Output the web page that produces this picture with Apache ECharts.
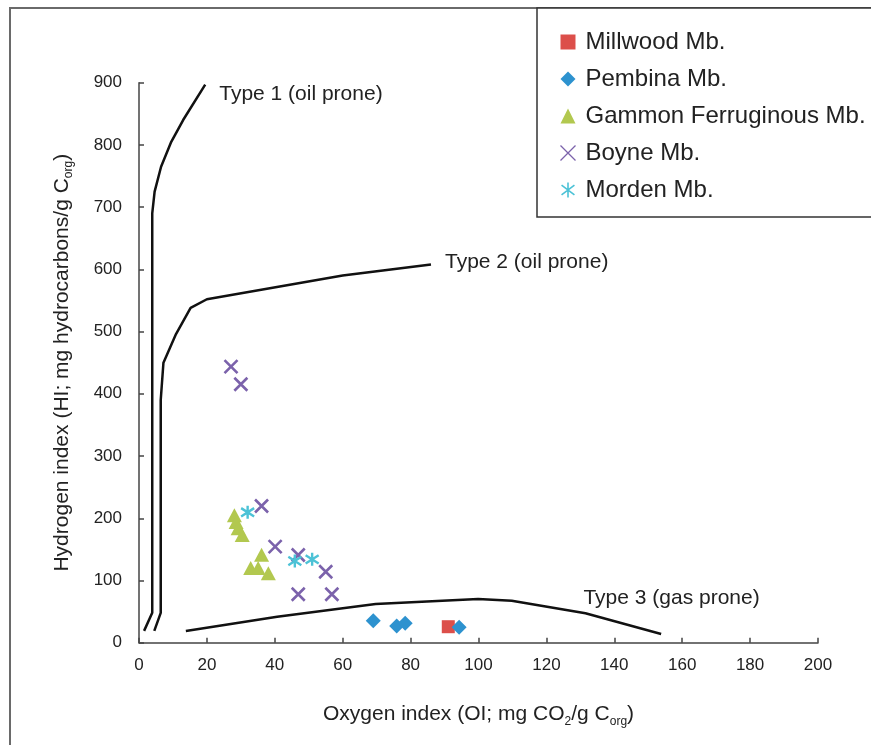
<!DOCTYPE html>
<html>
<head>
<meta charset="utf-8">
<script src="https://cdn.jsdelivr.net/npm/echarts@6/dist/echarts.min.js"></script>
<style>html,body{margin:0;padding:0;background:#fff}#c{width:871px;height:745px}</style>
</head>
<body>
<div id="c"></div>
<script>
// ---- data (OI, HI) ----
const seriesNames = ['Millwood Mb.', 'Pembina Mb.', 'Gammon Ferruginous Mb.', 'Boyne Mb.', 'Morden Mb.'];
const millwood = [[91.1, 25.7]];
const pembina = [[69.0, 35.4], [75.9, 26.8], [78.4, 31.2], [94.3, 24.8]];
const gammon = [[28.1, 205], [28.6, 194], [29.2, 184], [30.4, 173], [36.1, 141.5], [32.9, 120], [35.1, 120], [38.1, 111.5]];
const boyne = [[27.1, 443.6], [30.0, 415.3], [36.1, 219.7], [40.1, 154.3], [46.9, 141], [55.0, 114], [46.9, 77.8], [56.8, 77.8]];
const morden = [[32.0, 209.6], [45.9, 131.3], [51.0, 134]];
const type1 = [[1.5, 19], [3.9, 48], [3.9, 690], [4.6, 725], [6.5, 765], [9.5, 805], [13, 840], [19.5, 897]];
const type2 = [[4.5, 19], [6.4, 48], [6.4, 390], [7.2, 450], [10.9, 496], [15.2, 538], [20, 552], [60, 590], [86, 608]];
const type3 = [[13.8, 18.8], [40.7, 41.8], [69.7, 62.2], [99.9, 70.2], [109.8, 67.5], [131.5, 47.3], [153.8, 14]];
const typeLabels = ['Type 1 (oil prone)', 'Type 2 (oil prone)', 'Type 3 (gas prone)'];
const xRange = [0, 200, 20];
const yRange = [0, 900, 100];

const FONT = '"Liberation Sans", Arial, sans-serif';
const chart = echarts.init(document.getElementById('c'), null, {renderer: 'canvas'});

const xPath = 'path://M0,0 L10,10 M10,0 L0,10';
const starPath = 'path://M5,0 L5,10 M0.7,1.8 L9.3,8.2 M9.3,1.8 L0.7,8.2';

function curve(data, labelIdx, label, lblOpt) {
  return {
    type: 'line', data: data.map((d, i) => {
      if (i !== labelIdx) return d;
      return {value: d, symbolSize: 0.01, label: Object.assign({show: true, formatter: label, fontSize: 21, color: '#222', fontFamily: FONT}, lblOpt)};
    }),
    symbol: 'circle', symbolSize: 0.01, showSymbol: true,
    itemStyle: {color: 'transparent'},
    lineStyle: {color: '#111', width: 2.5}, silent: true, z: 2,
    label: {show: false}
  };
}

const richName = {
  a: {fontSize: 21, color: '#222', fontFamily: FONT, lineHeight: 26},
  s: {fontSize: 12, color: '#222', fontFamily: FONT, verticalAlign: 'bottom', lineHeight: 26}
};

const option = {
  animation: false,
  graphic: [{
    type: 'rect', shape: {x: 10, y: 8, width: 900, height: 800},
    style: {fill: 'none', stroke: '#6a6a6a', lineWidth: 2}, z: 0
  }],
  grid: {left: 139, top: 82.7, right: 53, bottom: 102.3},
  legend: {
    orient: 'vertical', left: 537, top: 8,
    padding: [22, 40, 15, 21],
    itemGap: 13, itemWidth: 15, itemHeight: 15,
    borderColor: '#333', borderWidth: 1.5, backgroundColor: '#fff',
    textStyle: {fontSize: 24, lineHeight: 24, color: '#222', fontFamily: FONT, padding: [0, 0, 0, 5]},
    data: [
      {name: seriesNames[0]},
      {name: seriesNames[1]},
      {name: seriesNames[2]},
      {name: seriesNames[3], itemStyle: {borderWidth: 1.3}},
      {name: seriesNames[4], itemStyle: {borderWidth: 1.6}}
    ],
    z: 10
  },
  xAxis: {
    type: 'value', min: xRange[0], max: xRange[1], interval: xRange[2],
    name: '{a|Oxygen index (OI; mg CO}{s|2}{a|/g C}{s|org}{a|)}',
    nameLocation: 'middle', nameGap: 59,
    nameTextStyle: {rich: richName},
    axisLine: {lineStyle: {color: '#444', width: 1.5}},
    axisTick: {inside: true, length: 5, lineStyle: {color: '#444', width: 1.5}},
    axisLabel: {fontSize: 17, color: '#222', fontFamily: FONT, margin: 14},
    splitLine: {show: false}
  },
  yAxis: {
    type: 'value', min: yRange[0], max: yRange[1], interval: yRange[2],
    name: '{a|Hydrogen index (HI; mg hydrocarbons/g C}{s|org}{a|)}',
    nameLocation: 'middle', nameGap: 64, nameRotate: 90,
    nameTextStyle: {rich: richName},
    axisLine: {show: true, lineStyle: {color: '#444', width: 1.5}},
    axisTick: {show: true, inside: true, length: 5, lineStyle: {color: '#444', width: 1.5}},
    axisLabel: {fontSize: 17, color: '#222', fontFamily: FONT, margin: 17},
    splitLine: {show: false}
  },
  series: [
    curve(type1, type1.length - 1, typeLabels[0], {position: 'right', distance: 14, offset: [0, 10]}),
    curve(type2, type2.length - 1, typeLabels[1], {position: 'right', distance: 14, offset: [0, -2]}),
    curve(type3, 5, typeLabels[2], {position: 'right', distance: 0, offset: [-2, -15]}),
    {name: seriesNames[0], type: 'scatter', data: millwood, symbol: 'rect', symbolSize: 13,
      itemStyle: {color: '#dc4f4a', opacity: 1}, z: 5},
    {name: seriesNames[1], type: 'scatter', data: pembina, symbol: 'diamond', symbolSize: 15,
      itemStyle: {color: '#2d92cf', opacity: 1}, z: 5},
    {name: seriesNames[2], type: 'scatter', data: gammon, symbol: 'triangle', symbolSize: [15, 14],
      itemStyle: {color: '#b2c84f', opacity: 1}, z: 5},
    {name: seriesNames[3], type: 'scatter', data: boyne, symbol: xPath, symbolSize: 13,
      itemStyle: {color: 'none', borderColor: '#7b62ab', borderWidth: 2.6, opacity: 1}, z: 5},
    {name: seriesNames[4], type: 'scatter', data: morden, symbol: starPath, symbolSize: 13,
      itemStyle: {color: 'none', borderColor: '#4cc2d6', borderWidth: 2.4, opacity: 1}, z: 5}
  ]
};
chart.setOption(option);
</script>
</body>
</html>
